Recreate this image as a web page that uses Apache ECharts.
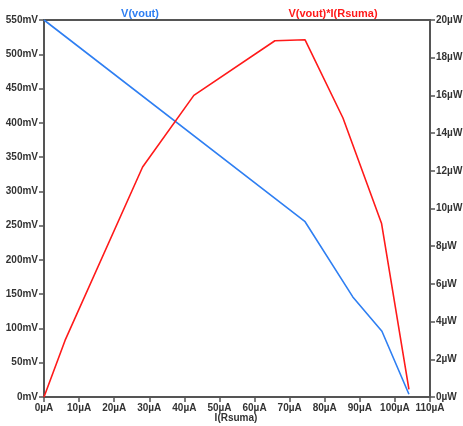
<!DOCTYPE html>
<html><head><meta charset="utf-8">
<script src="https://cdn.jsdelivr.net/npm/echarts@6/dist/echarts.min.js"></script>
<style>html,body{margin:0;padding:0;background:#fff}#c{width:463px;height:426px}</style>
</head><body><div id="c"></div>
<script>
// Data (I in µA)
const voutI = [0, 74.4, 88, 96.3, 104];
const voutV = [550, 255.7, 146, 96, 4];           // mV
const powI  = [0, 6, 28.1, 42.7, 65.8, 74.4, 85.2, 96.2, 104];
const powP  = [0, 3.0, 12.2, 16.0, 18.9, 18.95, 14.8, 9.2, 0.4]; // µW
const seriesNames = ['V(vout)', 'V(vout)*I(Rsuma)'];
const xName = 'I(Rsuma)';

const chart = echarts.init(document.getElementById('c'));
const font = 'Liberation Sans, Arial, sans-serif';
const axisCol = '#555';
const lbl = {color:'#333', fontSize:10, fontWeight:'bold', fontFamily:font};
chart.setOption({
  animation:false,
  grid:{left:44, right:33, top:20, bottom:29, show:true, borderColor:axisCol, borderWidth:2,
        containLabel:false, outerBoundsMode:'none'},
  graphic:[
    {type:'text', x:140, y:14, style:{text:seriesNames[0], fill:'#2f7ff2', font:'bold 11px '+font, textAlign:'center', textVerticalAlign:'middle'}},
    {type:'text', x:333, y:14, style:{text:seriesNames[1], fill:'#ff1a1a', font:'bold 11px '+font, textAlign:'center', textVerticalAlign:'middle'}},
    {type:'text', x:236, y:418, style:{text:xName, fill:'#333', font:'bold 10px '+font, textAlign:'center', textVerticalAlign:'middle'}}
  ],
  xAxis:{type:'value', min:0, max:110, interval:10,
    axisLine:{show:true, lineStyle:{color:axisCol, width:2}},
    axisTick:{show:true, length:5, lineStyle:{color:axisCol, width:1.5}},
    axisLabel:Object.assign({margin:6, formatter:v=>v+'µA'}, lbl),
    splitLine:{show:false}},
  yAxis:[
    {type:'value', min:0, max:550, interval:50, position:'left',
     axisLine:{show:true, lineStyle:{color:axisCol, width:2}},
     axisTick:{show:true, length:5, lineStyle:{color:axisCol, width:1.5}},
     axisLabel:Object.assign({margin:6, formatter:v=>v+'mV'}, lbl),
     splitLine:{show:false}},
    {type:'value', min:0, max:20, interval:2, position:'right',
     axisLine:{show:true, lineStyle:{color:axisCol, width:2}},
     axisTick:{show:true, length:5, lineStyle:{color:axisCol, width:1.5}},
     axisLabel:Object.assign({margin:6, formatter:v=>v+'µW'}, lbl),
     splitLine:{show:false}}
  ],
  series:[
    {name:seriesNames[0], type:'line', yAxisIndex:0, showSymbol:false, symbol:'none',
     lineStyle:{color:'#2f7ff2', width:1.6},
     data:voutI.map((x,i)=>[x, voutV[i]])},
    {name:seriesNames[1], type:'line', yAxisIndex:1, showSymbol:false, symbol:'none',
     lineStyle:{color:'#ff1a1a', width:1.6},
     data:powI.map((x,i)=>[x, powP[i]])}
  ]
});
</script></body></html>
